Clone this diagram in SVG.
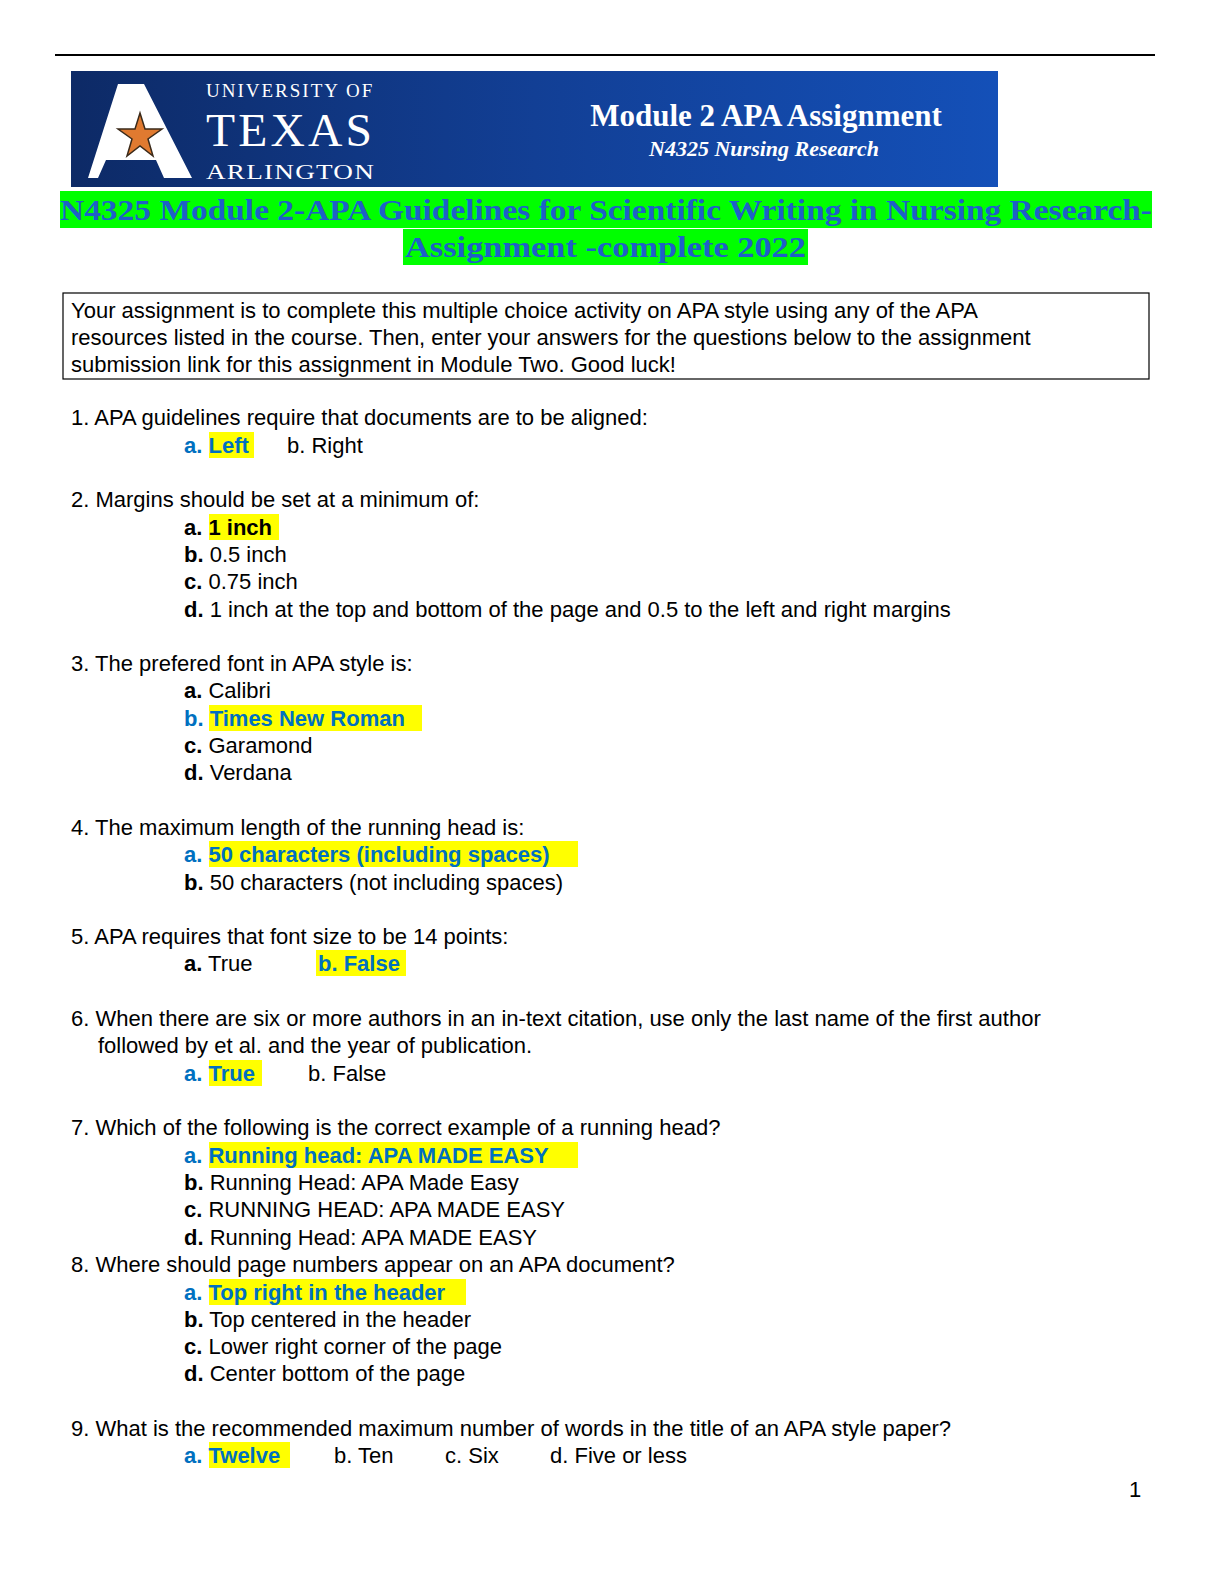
<svg xmlns="http://www.w3.org/2000/svg" width="1224" height="1584" viewBox="0 0 1224 1584">
<defs>
<linearGradient id="bg" x1="0" y1="0" x2="1" y2="0"><stop offset="0" stop-color="#0d2a66"/><stop offset="0.5" stop-color="#123f95"/><stop offset="1" stop-color="#1450b8"/></linearGradient>
</defs>
<style>
.t{font-family:"Liberation Sans",Arial,sans-serif;font-size:22px;fill:#000}
.b{font-weight:bold}
.a{font-family:"Liberation Sans",Arial,sans-serif;font-size:22px;font-weight:bold;fill:#0070C0}
.hl{fill:#FFFF00}
.sf{font-family:"Liberation Serif","DejaVu Serif",serif}
</style>
<rect width="1224" height="1584" fill="#fff"/>
<line x1="55" y1="55" x2="1155" y2="55" stroke="#000" stroke-width="2"/>
<g id="banner">
<rect x="71" y="71" width="927" height="116" fill="url(#bg)"/>
<polygon points="118,84 144,84 192,178 164,178 156,160 106,160 98,178 88,178" fill="#fff"/>
<polygon points="140,113 145,129 162,129 148,139 153,156 140,146 127,156 132,139 118,129 135,129" fill="#e07a30" stroke="#3a2a1a" stroke-width="1.5"/>
<text class="sf" x="206" y="97" font-size="19" fill="#fff" letter-spacing="2">UNIVERSITY OF</text>
<text class="sf" x="206" y="146" font-size="46" fill="#fff" letter-spacing="3" textLength="169" lengthAdjust="spacingAndGlyphs">TEXAS</text>
<text class="sf" x="206" y="179" font-size="22" fill="#fff" letter-spacing="1" textLength="169" lengthAdjust="spacingAndGlyphs">ARLINGTON</text>
<text class="sf" x="766" y="126" font-size="31" font-weight="bold" fill="#fff" text-anchor="middle">Module 2 APA Assignment</text>
<text class="sf" x="764" y="156" font-size="22" font-weight="bold" font-style="italic" fill="#fff" text-anchor="middle">N4325  Nursing Research</text>
</g>
<g id="title">
<rect x="60" y="191" width="1092" height="37" fill="#00FF00"/>
<rect x="403" y="229" width="405" height="36" fill="#00FF00"/>
<text class="sf" x="60" y="220" font-size="30" font-weight="bold" fill="#1F5FC8" textLength="1092" lengthAdjust="spacingAndGlyphs">N4325 Module 2-APA Guidelines for Scientific Writing in Nursing Research-</text>
<text class="sf" x="405" y="257" font-size="30" font-weight="bold" fill="#1F5FC8" textLength="401" lengthAdjust="spacingAndGlyphs">Assignment -complete 2022</text>
</g>
<g id="intro">
<rect x="63" y="293" width="1086" height="86" fill="none" stroke="#000" stroke-width="1.2"/>
<text class="t" x="71" y="318">Your assignment is to complete this multiple choice activity on APA style using any of the APA</text>
<text class="t" x="71" y="345">resources listed in the course.  Then, enter your answers for the questions below to the assignment</text>
<text class="t" x="71" y="372">submission link for this assignment in Module Two. Good luck!</text>
</g>
<g id="q1">
<text class="t" x="71" y="425">1. APA guidelines require that documents are to be aligned:</text>
<rect class="hl" x="209" y="432" width="45" height="26"/>
<text class="a" x="184" y="453">a. Left</text>
<text class="t" x="287" y="453">b. Right</text>
</g>
<g id="q2">
<text class="t" x="71" y="507">2. Margins should be set at a minimum of:</text>
<rect class="hl" x="209" y="514" width="70" height="26"/>
<text class="t b" x="184" y="535">a. 1 inch</text>
<text class="t" x="184" y="562"><tspan class="b">b.</tspan> 0.5 inch</text>
<text class="t" x="184" y="589"><tspan class="b">c.</tspan> 0.75 inch</text>
<text class="t" x="184" y="617"><tspan class="b">d.</tspan> 1 inch at the top and bottom of the page and 0.5 to the left and right margins</text>
</g>
<g id="q3">
<text class="t" x="71" y="671">3. The prefered font in APA style is:</text>
<text class="t" x="184" y="698"><tspan class="b">a.</tspan> Calibri</text>
<rect class="hl" x="209" y="705" width="213" height="26"/>
<text class="a" x="184" y="726">b. Times New Roman</text>
<text class="t" x="184" y="753"><tspan class="b">c.</tspan> Garamond</text>
<text class="t" x="184" y="780"><tspan class="b">d.</tspan> Verdana</text>
</g>
<g id="q4">
<text class="t" x="71" y="835">4. The maximum length of the running head is:</text>
<rect class="hl" x="209" y="841" width="369" height="26"/>
<text class="a" x="184" y="862">a. 50 characters (including spaces)</text>
<text class="t" x="184" y="890"><tspan class="b">b.</tspan> 50 characters (not including spaces)</text>
</g>
<g id="q5">
<text class="t" x="71" y="944">5. APA requires that font size to be 14 points:</text>
<text class="t" x="184" y="971"><tspan class="b">a.</tspan> True</text>
<rect class="hl" x="316" y="950" width="90" height="26"/>
<text class="a" x="318" y="971">b. False</text>
</g>
<g id="q6">
<text class="t" x="71" y="1026">6. When there are six or more authors in an in-text citation, use only the last name of the first author</text>
<text class="t" x="98" y="1053">followed by et al. and the year of publication.</text>
<rect class="hl" x="209" y="1060" width="53" height="26"/>
<text class="a" x="184" y="1081">a. True</text>
<text class="t" x="308" y="1081">b. False</text>
</g>
<g id="q7">
<text class="t" x="71" y="1135">7. Which of the following is the correct example of a running head?</text>
<rect class="hl" x="209" y="1142" width="369" height="26"/>
<text class="a" x="184" y="1163">a. Running head: APA MADE EASY</text>
<text class="t" x="184" y="1190"><tspan class="b">b.</tspan> Running Head: APA Made Easy</text>
<text class="t" x="184" y="1217"><tspan class="b">c.</tspan> RUNNING HEAD: APA MADE EASY</text>
<text class="t" x="184" y="1245"><tspan class="b">d.</tspan> Running Head: APA MADE EASY</text>
</g>
<g id="q8">
<text class="t" x="71" y="1272">8. Where should page numbers appear on an APA document?</text>
<rect class="hl" x="209" y="1279" width="257" height="26"/>
<text class="a" x="184" y="1300">a. Top right in the header</text>
<text class="t" x="184" y="1327"><tspan class="b">b.</tspan> Top centered in the header</text>
<text class="t" x="184" y="1354"><tspan class="b">c.</tspan> Lower right corner of the page</text>
<text class="t" x="184" y="1381"><tspan class="b">d.</tspan> Center bottom of the page</text>
</g>
<g id="q9">
<text class="t" x="71" y="1436">9. What is the recommended maximum number of words in the title of an APA style paper?</text>
<rect class="hl" x="209" y="1442" width="81" height="26"/>
<text class="a" x="184" y="1463">a. Twelve</text>
<text class="t" x="334" y="1463">b. Ten</text>
<text class="t" x="445" y="1463">c. Six</text>
<text class="t" x="550" y="1463">d. Five or less</text>
</g>
<text class="t" x="1129" y="1497">1</text>
</svg>
